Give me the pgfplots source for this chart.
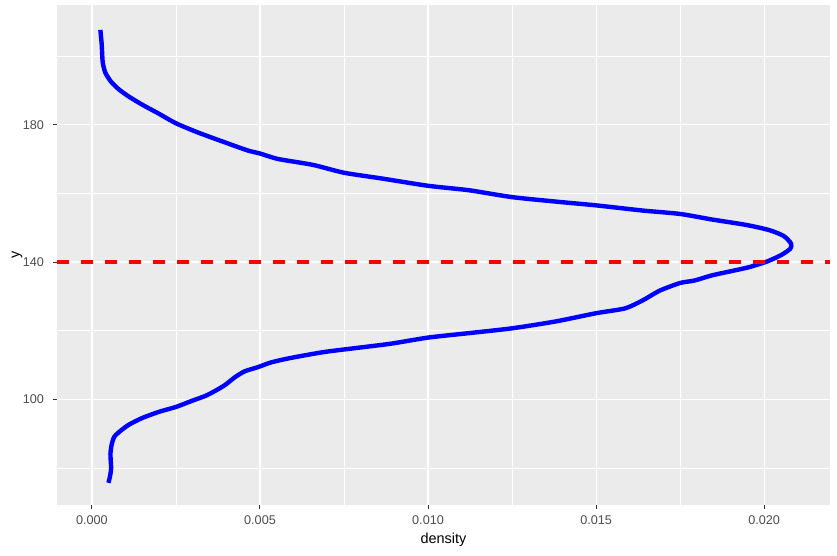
\documentclass[border=0pt]{standalone}
\usepackage{pgfplots}
\pgfplotsset{compat=1.18}
\usepackage{fontspec}
\setmainfont{Liberation Sans}
\definecolor{panelbg}{HTML}{EBEBEB}
\definecolor{gthirty}{HTML}{4D4D4D}
\definecolor{gtwenty}{HTML}{333333}
\begin{document}
\begin{tikzpicture}
\useasboundingbox (0,0) rectangle (837bp,556bp);
\begin{axis}[
  at={(57bp,51bp)}, anchor=south west,
  scale only axis,
  width=773bp, height=499.5bp,
  xmin=-0.00104, xmax=0.02196,
  ymin=69.25, ymax=214.7,
  axis background/.style={fill=panelbg},
  axis line style={draw=none},
  xtick={0,0.005,0.010,0.015,0.020},
  xticklabels={0.000,0.005,0.010,0.015,0.020},
  scaled x ticks=false,
  ytick={100,140,180},
  yticklabels={100,140,180},
  minor xtick={0.0025,0.0075,0.0125,0.0175},
  minor ytick={80,120,160,200},
  grid=both,
  major grid style={white, line width=1.1bp},
  minor grid style={white, line width=0.55bp},
  tick align=outside,
  major tick length=4.3bp,
  minor tick length=0pt,
  tick style={gtwenty, line width=1bp},
  xtick pos=bottom, ytick pos=left,
  xticklabel style={font=\fontsize{12.7}{14}\selectfont, text=gthirty, inner sep=0pt, anchor=north, yshift=-6.5bp},
  yticklabel style={font=\fontsize{12.7}{14}\selectfont, text=gthirty, inner sep=0pt, anchor=east, xshift=-8.5bp},
  xlabel={density},
  ylabel={y},
  xlabel style={font=\fontsize{14.5}{16}\selectfont, at={(axis description cs:0.5,0)}, anchor=north, inner sep=0pt, yshift=-28bp},
  ylabel style={font=\fontsize{14.5}{16}\selectfont, at={(axis description cs:0,0.5)}, anchor=center, inner sep=0pt, xshift=0pt, yshift=40bp},
  clip=true,
]
\addplot[blue, line width=4.4bp, line join=round, line cap=butt, smooth, tension=0.4] coordinates {
(0.00025,207.6)
(0.00029,203.4)
(0.00032,198.2)
(0.00040,195.1)
(0.00057,192.5)
(0.00081,190.2)
(0.00111,188.1)
(0.00150,185.8)
(0.00199,183.2)
(0.00250,180.4)
(0.00316,177.7)
(0.00394,174.9)
(0.00463,172.5)
(0.00500,171.6)
(0.00554,170.0)
(0.00657,168.3)
(0.00750,166.0)
(0.00864,164.3)
(0.01000,162.2)
(0.01122,160.9)
(0.01250,158.9)
(0.01380,157.6)
(0.01500,156.5)
(0.01638,155.0)
(0.01750,154.0)
(0.01844,152.4)
(0.01947,150.8)
(0.02015,149.3)
(0.02058,147.6)
(0.02080,145.4)
(0.02078,143.9)
(0.02052,142.1)
(0.02010,140.2)
(0.01955,138.5)
(0.01900,137.3)
(0.01844,136.1)
(0.01792,134.6)
(0.01750,133.9)
(0.01690,131.7)
(0.01638,128.8)
(0.01586,126.5)
(0.01500,125.1)
(0.01380,122.7)
(0.01250,120.7)
(0.01122,119.3)
(0.01000,118.0)
(0.00888,116.2)
(0.00789,115.0)
(0.00691,113.8)
(0.00593,112.1)
(0.00534,110.8)
(0.00494,109.4)
(0.00455,108.2)
(0.00426,106.5)
(0.00396,104.2)
(0.00367,102.5)
(0.00337,101.0)
(0.00298,99.6)
(0.00250,97.8)
(0.00200,96.4)
(0.00150,94.6)
(0.00111,92.7)
(0.00087,91.0)
(0.00067,89.2)
(0.00059,87.0)
(0.00055,84.1)
(0.00057,80.1)
(0.00054,77.7)
(0.00049,75.7)
};
\addplot[red, line width=3.2bp, dash pattern=on 11.8bp off 12.2bp] coordinates {(-0.00104,140) (0.02196,140)};
\end{axis}
\end{tikzpicture}
\end{document}
